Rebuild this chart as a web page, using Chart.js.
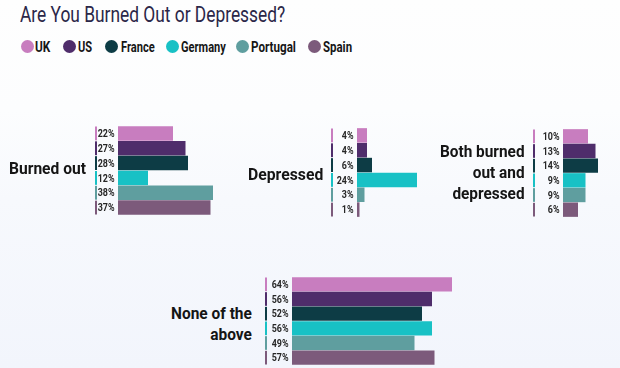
<!DOCTYPE html>
<html>
<head>
<meta charset="utf-8">
<script src="https://cdn.jsdelivr.net/npm/chart.js@4"></script>
<style>
  html,body{margin:0;padding:0;}
  body{width:620px;height:368px;overflow:hidden;position:relative;
    background:linear-gradient(#fefefe 0px,#fcfdfe 110px,#f7f9fd 200px,#f2f5fc 368px);
    font-family:Roboto,"Liberation Sans",sans-serif;}
  .abs{position:absolute;white-space:pre;}
  #title{left:20px;top:4px;font-size:22px;line-height:22px;font-weight:400;color:#2b2748;transform-origin:left top;}
  .leg-dot{position:absolute;width:13px;height:13px;border-radius:50%;}
  .leg-txt{position:absolute;font-weight:bold;font-size:15px;line-height:15px;color:#161616;transform-origin:left top;}
  .cat{position:absolute;font-weight:bold;font-size:17px;line-height:21px;color:#151515;text-align:right;white-space:pre;}
  canvas{position:absolute;}
</style>
</head>
<body>
<div id="title" class="abs">Are You Burned Out or Depressed?</div>
<script>
// ---- data ----
const chartTitle = 'Are You Burned Out or Depressed?';
const countries = ['UK','US','France','Germany','Portugal','Spain'];
const burnedOut = [22,27,28,12,38,37];
const depressed = [4,4,6,24,3,1];
const bothBurnedDepressed = [10,13,14,9,9,6];
const noneOfAbove = [64,56,52,56,49,57];
const panelLabels = ['Burned out','Depressed','Both burned\nout and\ndepressed','None of the\nabove'];

// ---- styles ----
const colors = ['#c87dbf','#4f2d6b','#0d3c45','#18c1c5','#5f9e9f','#7c5a7b'];

// title fit
const t = document.getElementById('title');
t.textContent = chartTitle;
t.style.transform = 'scaleX(' + (265 / t.offsetWidth) + ')';

// legend
const legDotX = [27,69,111,172,242,314];
const legTxtX = [35,78,121,181,251,323];
const legTxtW = [15,14,34,45,45,29];
countries.forEach((c,i)=>{
  const d = document.createElement('div');
  d.className='leg-dot';
  d.style.left=(legDotX[i]-6.5)+'px'; d.style.top=(46.5-6.5)+'px';
  d.style.background=colors[i];
  document.body.appendChild(d);
  const s = document.createElement('div');
  s.className='leg-txt abs';
  s.textContent=c;
  s.style.left=legTxtX[i]+'px'; s.style.top='39.5px';
  document.body.appendChild(s);
  s.style.transform='scaleX(' + (legTxtW[i]/s.offsetWidth) + ')';
});

const sidePlugin = {
  id:'side',
  afterDatasetsDraw(chart, args, opts){
    const ctx = chart.ctx, y = chart.scales.y, a = chart.chartArea;
    const vals = chart.data.datasets[0].data;
    const band = (a.bottom - a.top) / vals.length;
    vals.forEach((v,i)=>{
      const yc = y.getPixelForValue(i);
      ctx.fillStyle = colors[i];
      ctx.fillRect(a.left - opts.lineOffset - 1, yc - band/2 + 0.5, 2, band - 1);
      ctx.save();
      ctx.translate(a.left - 3.5, yc + 1);
      ctx.scale(0.85,1);
      ctx.font = 'bold 10.5px Roboto';
      ctx.fillStyle = '#262626';
      ctx.textAlign = 'right';
      ctx.textBaseline = 'middle';
      ctx.fillText(v + '%', 0, 0);
      ctx.restore();
    });
  }
};

const PX_PER = 2.5, PADL = 40;
function panel(values, label, cfg){
  const cv = document.createElement('canvas');
  const w = PADL + cfg.max*PX_PER + 2, h = cfg.bottom - cfg.top;
  cv.width = w; cv.height = h;
  cv.style.left = (cfg.barX - PADL) + 'px';
  cv.style.top = cfg.top + 'px';
  cv.style.width = w + 'px'; cv.style.height = h + 'px';
  document.body.appendChild(cv);
  new Chart(cv, {
    type:'bar',
    data:{labels:countries, datasets:[{data:values, backgroundColor:colors, borderWidth:0,
      categoryPercentage:1, barPercentage:0.98}]},
    options:{
      indexAxis:'y', responsive:false, animation:false, devicePixelRatio:1,
      layout:{padding:{left:PADL,right:2,top:0,bottom:0}},
      scales:{
        x:{display:false, min:0, max:cfg.max},
        y:{display:false}
      },
      plugins:{legend:{display:false}, tooltip:{enabled:false}, side:{lineOffset:cfg.lineOffset}}
    },
    plugins:[sidePlugin]
  });
  const c = document.createElement('div');
  c.className='cat';
  c.textContent = label;
  document.body.appendChild(c);
  const sc = cfg.labelW / c.offsetWidth;
  c.style.right = (620 - cfg.labelRight) + 'px';
  c.style.top = cfg.labelCY + 'px';
  c.style.transformOrigin = 'right center';
  c.style.transform = 'translateY(-50%) scaleX(' + sc + ')';
}

panel(burnedOut, panelLabels[0], {barX:118, top:126, bottom:215, max:40, lineOffset:22, labelRight:86, labelCY:168, labelW:77});
panel(depressed, panelLabels[1], {barX:357, top:128, bottom:217, max:40, lineOffset:25, labelRight:323, labelCY:174, labelW:75});
panel(bothBurnedDepressed, panelLabels[2], {barX:563, top:129, bottom:217, max:20, lineOffset:29, labelRight:525, labelCY:172, labelW:85});
panel(noneOfAbove, panelLabels[3], {barX:292, top:277, bottom:365, max:70, lineOffset:26, labelRight:252, labelCY:324, labelW:81});
</script>
</body>
</html>
